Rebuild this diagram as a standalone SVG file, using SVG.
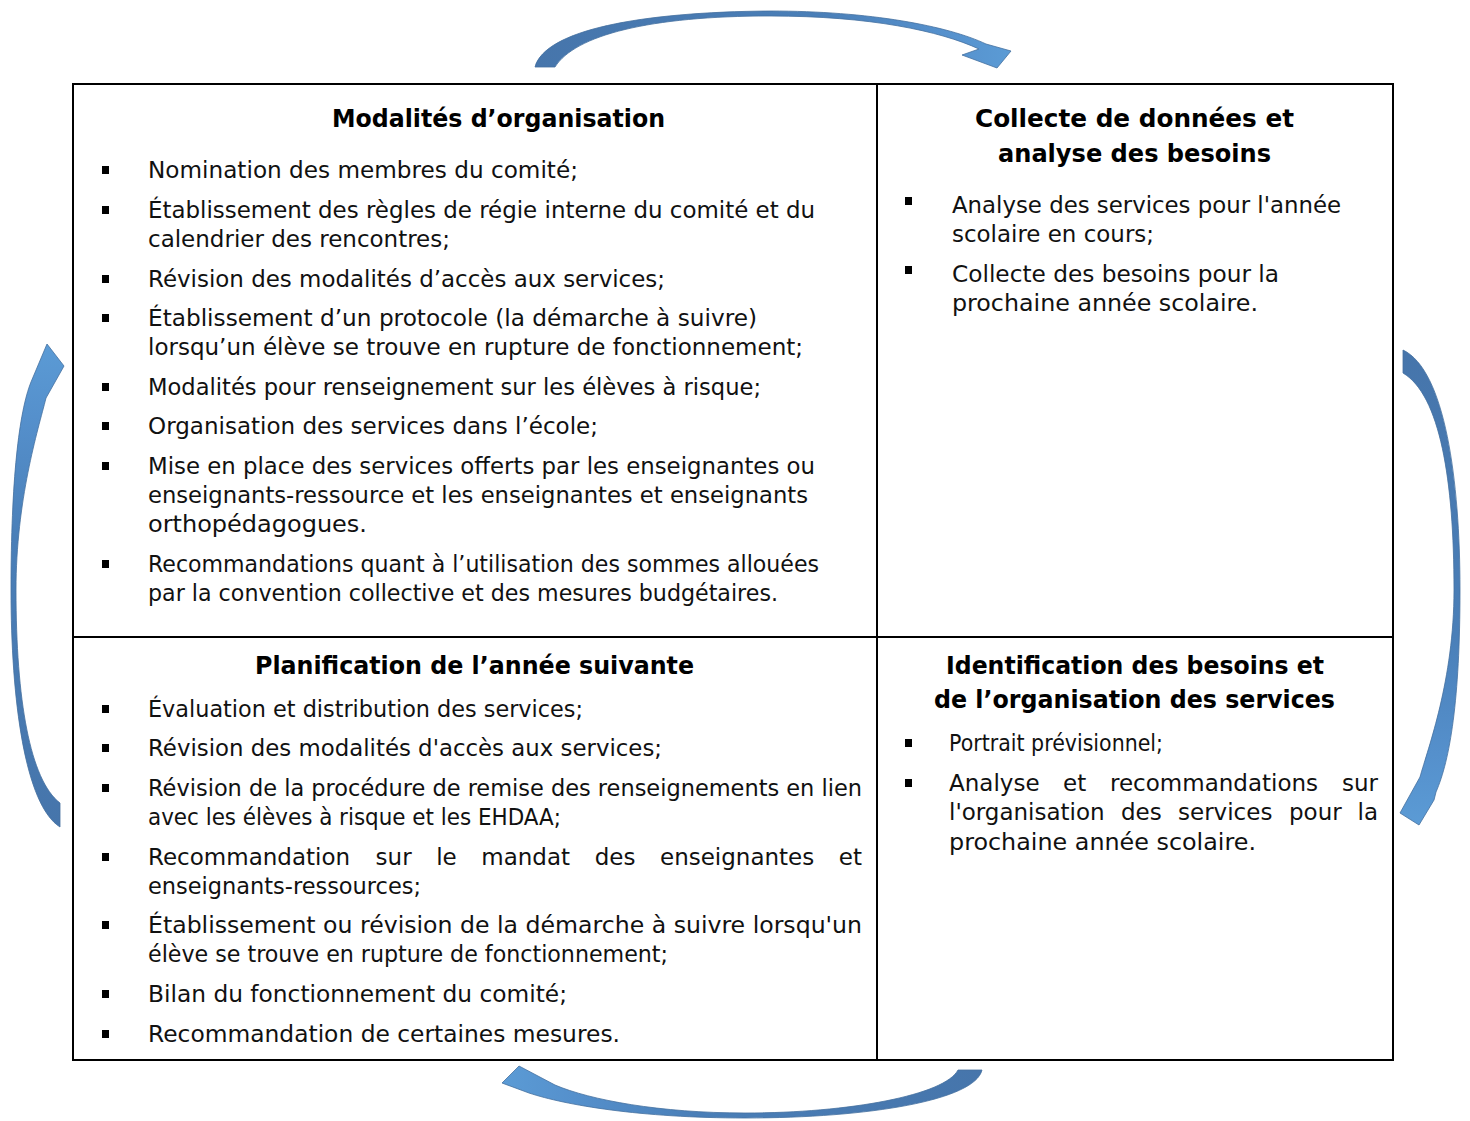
<svg xmlns="http://www.w3.org/2000/svg" xmlns:xlink="http://www.w3.org/1999/xlink" width="1470" height="1121" viewBox="0 0 1470 1121">
<style>
.box{fill:#fff;stroke:#000;stroke-width:2}
.t{font-family:"DejaVu Sans","Liberation Sans",sans-serif;font-size:23px;fill:#111}
.h{font-family:"DejaVu Sans","Liberation Sans",sans-serif;font-size:24px;font-weight:bold;fill:#000;text-anchor:middle}
.arr{stroke:#44709f;stroke-width:0.8;stroke-linejoin:miter}
</style>
<defs>
<rect id="b" width="7" height="8" fill="#000"/>
<linearGradient id="gTop" x1="0" y1="0" x2="1" y2="0">
<stop offset="0" stop-color="#4675ab"/><stop offset="0.6" stop-color="#4a7fb8"/><stop offset="0.85" stop-color="#5590cc"/><stop offset="1" stop-color="#5b9bd5"/>
</linearGradient>
<linearGradient id="gBot" x1="1" y1="0" x2="0" y2="0">
<stop offset="0" stop-color="#4675ab"/><stop offset="0.6" stop-color="#4a7fb8"/><stop offset="0.85" stop-color="#5590cc"/><stop offset="1" stop-color="#5b9bd5"/>
</linearGradient>
<linearGradient id="gLeft" x1="0" y1="1" x2="0" y2="0">
<stop offset="0" stop-color="#4675ab"/><stop offset="0.6" stop-color="#4a7fb8"/><stop offset="0.85" stop-color="#5590cc"/><stop offset="1" stop-color="#5b9bd5"/>
</linearGradient>
<linearGradient id="gRight" x1="0" y1="0" x2="0" y2="1">
<stop offset="0" stop-color="#4675ab"/><stop offset="0.6" stop-color="#4a7fb8"/><stop offset="0.85" stop-color="#5590cc"/><stop offset="1" stop-color="#5b9bd5"/>
</linearGradient>
</defs>

<g id="modalites">
<rect class="box" x="73" y="84" width="804" height="553"/>
<text class="h" x="498.5" y="127" textLength="333" lengthAdjust="spacingAndGlyphs">Modalités d’organisation</text>
<use href="#b" x="102" y="166"/><use href="#b" x="102" y="206"/><use href="#b" x="102" y="275"/><use href="#b" x="102" y="314"/>
<use href="#b" x="102" y="383"/><use href="#b" x="102" y="422"/><use href="#b" x="102" y="462"/><use href="#b" x="102" y="560"/>
<text class="t" x="148" y="178" textLength="430" lengthAdjust="spacingAndGlyphs">Nomination des membres du comité;</text>
<text class="t" x="148" y="218" textLength="667" lengthAdjust="spacingAndGlyphs">Établissement des règles de régie interne du comité et du</text>
<text class="t" x="148" y="247" textLength="302" lengthAdjust="spacingAndGlyphs">calendrier des rencontres;</text>
<text class="t" x="148" y="287" textLength="517" lengthAdjust="spacingAndGlyphs">Révision des modalités d’accès aux services;</text>
<text class="t" x="148" y="326" textLength="609" lengthAdjust="spacingAndGlyphs">Établissement d’un protocole (la démarche à suivre)</text>
<text class="t" x="148" y="355" textLength="655" lengthAdjust="spacingAndGlyphs">lorsqu’un élève se trouve en rupture de fonctionnement;</text>
<text class="t" x="148" y="395" textLength="613" lengthAdjust="spacingAndGlyphs">Modalités pour renseignement sur les élèves à risque;</text>
<text class="t" x="148" y="434" textLength="450" lengthAdjust="spacingAndGlyphs">Organisation des services dans l’école;</text>
<text class="t" x="148" y="474" textLength="667" lengthAdjust="spacingAndGlyphs">Mise en place des services offerts par les enseignantes ou</text>
<text class="t" x="148" y="503" textLength="660" lengthAdjust="spacingAndGlyphs">enseignants-ressource et les enseignantes et enseignants</text>
<text class="t" x="148" y="532" textLength="219" lengthAdjust="spacingAndGlyphs">orthopédagogues.</text>
<text class="t" x="148" y="572" textLength="671" lengthAdjust="spacingAndGlyphs">Recommandations quant à l’utilisation des sommes allouées</text>
<text class="t" x="148" y="601" textLength="630" lengthAdjust="spacingAndGlyphs">par la convention collective et des mesures budgétaires.</text>
</g>

<g id="collecte">
<rect class="box" x="877" y="84" width="516" height="553"/>
<text class="h" x="1134.5" y="127" textLength="319" lengthAdjust="spacingAndGlyphs">Collecte de données et</text>
<text class="h" x="1134.5" y="162" textLength="273" lengthAdjust="spacingAndGlyphs">analyse des besoins</text>
<use href="#b" x="905" y="197"/><use href="#b" x="905" y="266"/>
<text class="t" x="952" y="213" textLength="389" lengthAdjust="spacingAndGlyphs">Analyse des services pour l'année</text>
<text class="t" x="952" y="242" textLength="202" lengthAdjust="spacingAndGlyphs">scolaire en cours;</text>
<text class="t" x="952" y="282" textLength="327" lengthAdjust="spacingAndGlyphs">Collecte des besoins pour la</text>
<text class="t" x="952" y="311" textLength="306" lengthAdjust="spacingAndGlyphs">prochaine année scolaire.</text>
</g>

<g id="planification">
<rect class="box" x="73" y="637" width="804" height="423"/>
<text class="h" x="474.5" y="674" textLength="439" lengthAdjust="spacingAndGlyphs">Planification de l’année suivante</text>
<use href="#b" x="102" y="705"/><use href="#b" x="102" y="744"/><use href="#b" x="102" y="784"/><use href="#b" x="102" y="853"/>
<use href="#b" x="102" y="921"/><use href="#b" x="102" y="990"/><use href="#b" x="102" y="1030"/>
<text class="t" x="148" y="717" textLength="435" lengthAdjust="spacingAndGlyphs">Évaluation et distribution des services;</text>
<text class="t" x="148" y="756" textLength="514" lengthAdjust="spacingAndGlyphs">Révision des modalités d'accès aux services;</text>
<text class="t" x="148" y="796" textLength="714" lengthAdjust="spacingAndGlyphs">Révision de la procédure de remise des renseignements en lien</text>
<text class="t" x="148" y="825" textLength="413" lengthAdjust="spacingAndGlyphs">avec les élèves à risque et les EHDAA;</text>
<text class="t" y="865"><tspan x="148">Recommandation</tspan><tspan x="375.6">sur</tspan><tspan x="436.2">le</tspan><tspan x="481.3">mandat</tspan><tspan x="594.7">des</tspan><tspan x="660">enseignantes</tspan></text>
<text class="t" x="862" y="865" text-anchor="end">et</text>
<text class="t" x="148" y="894" textLength="273" lengthAdjust="spacingAndGlyphs">enseignants-ressources;</text>
<text class="t" x="148" y="933" textLength="714" lengthAdjust="spacingAndGlyphs">Établissement ou révision de la démarche à suivre lorsqu'un</text>
<text class="t" x="148" y="962" textLength="520" lengthAdjust="spacingAndGlyphs">élève se trouve en rupture de fonctionnement;</text>
<text class="t" x="148" y="1002" textLength="419" lengthAdjust="spacingAndGlyphs">Bilan du fonctionnement du comité;</text>
<text class="t" x="148" y="1042" textLength="472" lengthAdjust="spacingAndGlyphs">Recommandation de certaines mesures.</text>
</g>

<g id="identification">
<rect class="box" x="877" y="637" width="516" height="423"/>
<text class="h" x="1135" y="674" textLength="378" lengthAdjust="spacingAndGlyphs">Identification des besoins et</text>
<text class="h" x="1134.5" y="708" textLength="401" lengthAdjust="spacingAndGlyphs">de l’organisation des services</text>
<use href="#b" x="905" y="739"/><use href="#b" x="905" y="779"/>
<text class="t" x="949" y="751" textLength="214" lengthAdjust="spacingAndGlyphs">Portrait prévisionnel;</text>
<text class="t" y="791"><tspan x="949">Analyse</tspan><tspan x="1063">et</tspan><tspan x="1110">recommandations</tspan></text>
<text class="t" x="1378" y="791" text-anchor="end">sur</text>
<text class="t" y="820"><tspan x="949">l'organisation</tspan><tspan x="1121">des</tspan><tspan x="1178">services</tspan><tspan x="1289">pour</tspan></text>
<text class="t" x="1378" y="820" text-anchor="end">la</text>
<text class="t" x="949" y="850" textLength="307" lengthAdjust="spacingAndGlyphs">prochaine année scolaire.</text>
</g>

<g id="connectors">
<path class="arr" fill="url(#gTop)" d="M535,67 C545,30 640,12 770,11 C870,11 948,26 986,44 L1011,51 L997,68 L962,55 L979,49 C940,31 870,16 770,16 C650,16 575,35 555,67 Z"/>
<path class="arr" fill="url(#gRight)" d="M1403,350 C1445,370 1460,480 1460,590 C1460,700 1450,760 1436,792 L1434,800 L1419,825 L1400,813 L1420,777 C1428,748 1454,680 1454,590 C1454,480 1440,395 1403,373 Z"/>
<path class="arr" fill="url(#gBot)" d="M982,1070 C975,1100 870,1118 745,1118 C640,1118 565,1105 529,1093 L502,1083 L519,1066 L555,1085 C590,1100 660,1113 745,1113 C850,1113 945,1095 958,1070 Z"/>
<path class="arr" fill="url(#gLeft)" d="M60,827 C25,805 11,700 11,590 C11,480 19,412 31,382 L47,344 L64,366 L46,398 C38,430 16,500 16,590 C16,700 30,780 60,803 Z"/>
</g>
</svg>
